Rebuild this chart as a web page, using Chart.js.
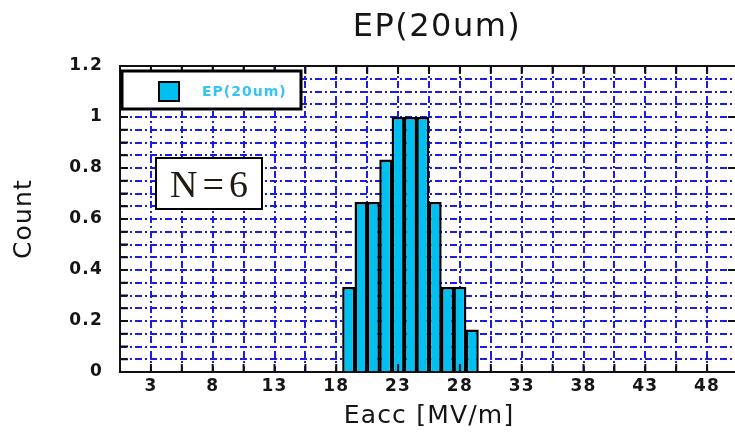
<!DOCTYPE html>
<html>
<head>
<meta charset="utf-8">
<title>EP(20um)</title>
<script src="https://cdn.jsdelivr.net/npm/chart.js@4/dist/chart.umd.min.js"></script>
<style>
  html, body { margin: 0; padding: 0; background: #fff; overflow: hidden; }
  #wrap { width: 745px; height: 432px; }
</style>
</head>
<body>
<div id="wrap"><canvas id="chart" width="745" height="432"></canvas></div>
<script>
// Histogram data
const chartTitle = 'EP(20um)';
const seriesName = 'EP(20um)';
const sampleCount = 6;
const binCenters = [19, 20, 21, 22, 23, 24, 25, 26, 27, 28, 29];
const counts = [0.333, 0.667, 0.667, 0.833, 1, 1, 1, 0.667, 0.333, 0.333, 0.167];
const xTickLabels = [3, 8, 13, 18, 23, 28, 33, 38, 43, 48];
const yTickLabels = [0, 0.2, 0.4, 0.6, 0.8, 1, 1.2];
const xRange = [0.5, 50.5];
const yRange = [0, 1.2];
const xStep = 2.5;
const yStep = 0.05;

const FONT = 'DejaVu Sans';
const BAR_COLOR = '#00c0f2';
const GRID_COLOR = '#1c1ce4';
const GRID_DASH = [7, 3, 2, 3];
const TEXT_COLOR = '#151515';

Chart.defaults.font.family = FONT;

function pickLabel(list, v) {
  const hit = list.find(l => Math.abs(l - v) < 1e-6);
  return hit === undefined ? '' : String(hit);
}

// Slightly wider letter spacing for all text on the canvas
const spacing = {
  id: 'spacing',
  beforeDraw(chart) { chart.ctx.letterSpacing = '1.2px'; }
};

// Plot frame plus inward-pointing tick marks on all four sides
const frameAndTicks = {
  id: 'frameAndTicks',
  afterDatasetsDraw(chart) {
    const { ctx, chartArea: a, scales: { x, y } } = chart;
    ctx.save();
    ctx.setLineDash([]);
    ctx.strokeStyle = '#111';
    ctx.lineWidth = 2;
    ctx.beginPath();
    x.ticks.forEach(t => {
      const px = x.getPixelForValue(t.value);
      ctx.moveTo(px, a.bottom); ctx.lineTo(px, a.bottom - 8);
      ctx.moveTo(px, a.top); ctx.lineTo(px, a.top + 8);
    });
    y.ticks.forEach(t => {
      const py = y.getPixelForValue(t.value);
      ctx.moveTo(a.left, py); ctx.lineTo(a.left + 8, py);
    });
    yTickLabels.forEach(v => {
      const py = y.getPixelForValue(v);
      ctx.moveTo(a.right, py); ctx.lineTo(a.right - 10, py);
    });
    ctx.stroke();
    ctx.strokeRect(a.left, a.top, a.right - a.left, a.bottom - a.top);
    ctx.restore();
  }
};

// Title, boxed legend and sample-size note
const overlays = {
  id: 'overlays',
  afterDraw(chart) {
    const { ctx, chartArea: a } = chart;
    const ds = chart.data.datasets[0];
    ctx.save();
    ctx.setLineDash([]);

    // title
    ctx.fillStyle = TEXT_COLOR;
    ctx.font = `32px "${FONT}"`;
    ctx.textAlign = 'center';
    ctx.textBaseline = 'middle';
    ctx.letterSpacing = '1.5px';
    ctx.fillText(chartTitle, 437, 28);

    // legend box
    const lx = a.left + 2, ly = a.top + 5, lw = 179, lh = 38;
    ctx.fillStyle = '#fff';
    ctx.fillRect(lx, ly, lw, lh);
    ctx.strokeStyle = '#000';
    ctx.lineWidth = 3;
    ctx.strokeRect(lx, ly, lw, lh);
    ctx.fillStyle = ds.backgroundColor;
    ctx.fillRect(lx + 37, ly + 11, 20, 19);
    ctx.lineWidth = 2;
    ctx.strokeRect(lx + 37, ly + 11, 20, 19);
    ctx.fillStyle = '#36c4f4';
    ctx.font = `bold 14px "${FONT}"`;
    ctx.textAlign = 'left';
    ctx.letterSpacing = '1px';
    ctx.fillText(ds.label, lx + 80, ly + 21);

    // N box
    const nx = a.left + 36, ny = a.top + 92, nw = 106, nh = 51;
    ctx.fillStyle = '#fff';
    ctx.fillRect(nx, ny, nw, nh);
    ctx.lineWidth = 2;
    ctx.strokeStyle = '#000';
    ctx.strokeRect(nx, ny, nw, nh);
    ctx.fillStyle = '#201a12';
    ctx.font = '38px "Liberation Serif"';
    ctx.letterSpacing = '5px';
    const txt = 'N=' + sampleCount;
    const w = ctx.measureText(txt).width - 5;
    ctx.textBaseline = 'alphabetic';
    ctx.fillText(txt, nx + nw / 2 - w / 2, ny + 39);
    ctx.restore();
  }
};

const gridOpts = {
  offset: false,
  color: GRID_COLOR,
  lineWidth: 2,
  drawTicks: false,
  borderDash: GRID_DASH
};

new Chart(document.getElementById('chart'), {
  type: 'bar',
  data: {
    datasets: [{
      label: seriesName,
      data: binCenters.map((c, i) => ({ x: c, y: counts[i] })),
      backgroundColor: BAR_COLOR,
      borderColor: '#000',
      borderWidth: 2.5,
      barPercentage: 1.05,
      categoryPercentage: 1
    }]
  },
  options: {
    responsive: false,
    animation: false,
    devicePixelRatio: 1,
    layout: { padding: { top: 66, right: 7, left: 0, bottom: 0 } },
    plugins: {
      legend: { display: false },
      tooltip: { enabled: false },
      title: { display: false }
    },
    scales: {
      x: {
        type: 'linear',
        min: xRange[0],
        max: xRange[1],
        offset: false,
        grid: gridOpts,
        border: { display: false, dash: GRID_DASH },
        ticks: {
          stepSize: xStep,
          autoSkip: false,
          maxRotation: 0,
          padding: 4,
          color: TEXT_COLOR,
          font: { size: 17, weight: 'bold' },
          callback: v => pickLabel(xTickLabels, v)
        },
        title: {
          display: true,
          text: 'Eacc [MV/m]',
          color: TEXT_COLOR,
          font: { size: 25 },
          padding: { top: 0, bottom: 1 }
        },
        afterFit: s => { s.height = 60; }
      },
      y: {
        type: 'linear',
        min: yRange[0],
        max: yRange[1],
        grid: gridOpts,
        border: { display: false, dash: GRID_DASH },
        ticks: {
          stepSize: yStep,
          autoSkip: false,
          padding: 17,
          color: TEXT_COLOR,
          font: { size: 17, weight: 'bold' },
          callback: v => pickLabel(yTickLabels, v)
        },
        title: {
          display: true,
          text: 'Count',
          color: TEXT_COLOR,
          font: { size: 25 },
          padding: { top: 9, bottom: 0 }
        },
        afterFit: s => { s.width = 120; }
      }
    }
  },
  plugins: [spacing, frameAndTicks, overlays]
});
</script>
</body>
</html>
